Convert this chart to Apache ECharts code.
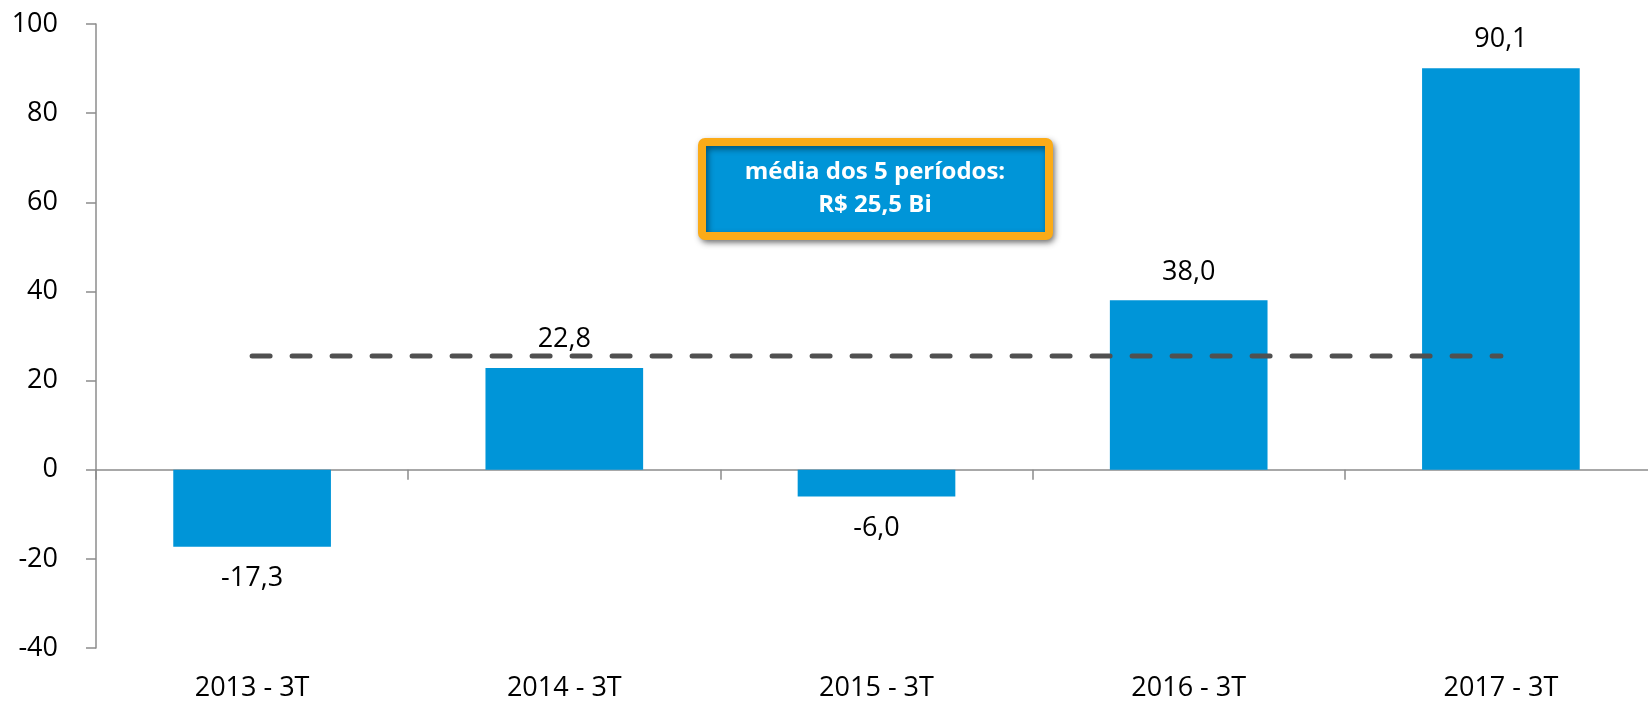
<!DOCTYPE html>
<html>
<head>
<meta charset="utf-8">
<script src="https://cdn.jsdelivr.net/npm/echarts@6/dist/echarts.min.js"></script>
<style>
  html, body { margin: 0; padding: 0; background: #fff; overflow: hidden; }
  /* o gráfico original é cortado à direita: div um pouco mais larga que a janela */
  #chart { width: 1662px; height: 702px; }
</style>
</head>
<body>
<div id="chart"></div>
<script>
var periodos = ["2013 - 3T", "2014 - 3T", "2015 - 3T", "2016 - 3T", "2017 - 3T"];
var valores = [-17.3, 22.8, -6.0, 38.0, 90.1];
var media = [25.5, 25.5, 25.5, 25.5, 25.5];
var yTicks = { min: -40, max: 100, interval: 20 };
var caixaTexto = ["média dos 5 períodos:", "R$ 25,5 Bi"];

var fonte = "'Open Sans', sans-serif";
var azul = "#0095d8";

function virgula(v) {
  return v.toFixed(1).replace(".", ",");
}

var myChart = echarts.init(document.getElementById("chart"));

// rótulo acima p/ positivos, abaixo p/ negativos
var barData = valores.map(function (v) {
  return {
    value: v,
    label: { position: v < 0 ? "bottom" : "top", distance: v < 0 ? 18 : 15 }
  };
});

myChart.setOption({
  animation: false,
  grid: { left: 96, top: 24, bottom: 54, right: 5 },
  xAxis: [
    {
      type: "category",
      data: periodos,
      axisLine: { onZero: true, lineStyle: { color: "#8c8c8c", width: 1.5 } },
      axisTick: { show: true, length: 10, lineStyle: { color: "#8c8c8c", width: 1.5 } },
      axisLabel: { show: false }
    },
    {
      type: "category",
      data: periodos,
      position: "bottom",
      axisLine: { show: false },
      axisTick: { show: false },
      axisLabel: { margin: 27, color: "#000", fontFamily: fonte, fontSize: 27 }
    }
  ],
  yAxis: {
    type: "value",
    min: yTicks.min,
    max: yTicks.max,
    interval: yTicks.interval,
    splitLine: { show: false },
    axisLine: { show: true, lineStyle: { color: "#8c8c8c", width: 1.5 } },
    axisTick: { show: true, length: 10, lineStyle: { color: "#8c8c8c", width: 1.5 } },
    axisLabel: { margin: 38, color: "#000", fontFamily: fonte, fontSize: 27 }
  },
  series: [
    {
      type: "bar",
      data: barData,
      barWidth: "50.5%",
      itemStyle: { color: azul },
      label: {
        show: true,
        color: "#000",
        fontFamily: fonte,
        fontSize: 27,
        formatter: function (p) { return virgula(p.value); }
      },
      z: 2
    },
    {
      type: "line",
      data: media,
      symbol: "none",
      lineStyle: { color: "#505050", width: 5, type: [18, 22], cap: "round" },
      z: 3
    }
  ],
  graphic: [
    {
      type: "rect",
      shape: { x: 702, y: 142, width: 347, height: 94, r: 3 },
      style: {
        fill: azul,
        stroke: "#fbab18",
        lineWidth: 8,
        shadowBlur: 6,
        shadowOffsetX: 2,
        shadowOffsetY: 3,
        shadowColor: "rgba(0,0,0,0.45)"
      },
      z: 10
    },
    {
      type: "text",
      x: 875,
      y: 189,
      style: {
        text: caixaTexto.join("\n"),
        fill: "#fff",
        font: "bold 24px " + fonte,
        lineHeight: 33,
        align: "center",
        verticalAlign: "middle"
      },
      z: 11
    }
  ]
});
</script>
</body>
</html>
